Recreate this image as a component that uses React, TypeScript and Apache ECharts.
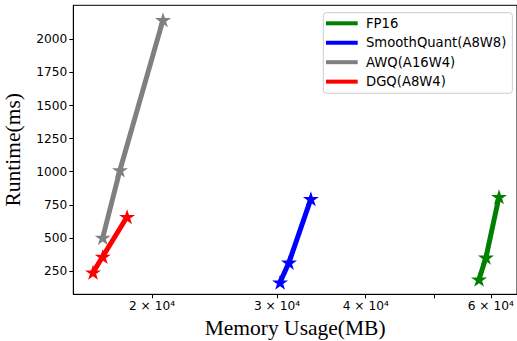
import React, { useEffect, useRef } from "react";
import * as echarts from "echarts";

const seriesNames = ["FP16", "SmoothQuant(A8W8)", "AWQ(A16W4)", "DGQ(A8W4)"];
const colors = ["#008000", "#0000ff", "#808080", "#ff0000"];
const fp16Mem = [57770, 59080, 61630];
const fp16Rt = [188, 353, 811];
const sqMem = [30300, 31190, 33480];
const sqRt = [165, 315, 795];
const awqMem = [17050, 18030, 20730];
const awqRt = [503, 1013, 2147];
const dgqMem = [16520, 17050, 18450];
const dgqRt = [240, 360, 660];
const yTicks = [250, 500, 750, 1000, 1250, 1500, 1750, 2000];
const xTicks = [20000, 30000, 40000, 50000, 60000];
const xLabels = [20000, 30000, 40000, 60000];

const STAR =
  "path://M0,-1 L0.2245,-0.309 L0.951,-0.309 L0.363,0.118 L0.588,0.809 L0,0.382 L-0.588,0.809 L-0.363,0.118 L-0.951,-0.309 L-0.2245,-0.309 Z";

export default function App() {
  const ref = useRef<HTMLDivElement>(null);
  useEffect(() => {
    if (!ref.current) return;
    const chart = echarts.init(ref.current, null, { renderer: "svg" });
    const mems = [fp16Mem, sqMem, awqMem, dgqMem];
    const rts = [fp16Rt, sqRt, awqRt, dgqRt];
    chart.setOption({
      animation: false,
      textStyle: { fontFamily: "DejaVu Sans" },
      grid: {
        left: 73.3,
        right: 0,
        top: 5.3,
        bottom: 46.7,
        show: true,
        borderColor: "#000",
        borderWidth: 1,
        outerBoundsMode: "none",
        containLabel: false,
      },
      legend: {
        orient: "vertical",
        left: 323.3,
        top: 12.7,
        padding: [3.1, 6, 4.1, 2.7],
        itemGap: 4.45,
        itemWidth: 31.7,
        itemHeight: 4,
        icon: "rect",
        borderColor: "#cccccc",
        borderWidth: 1,
        borderRadius: 3,
        backgroundColor: "#ffffff",
        textStyle: { fontSize: 13.2, color: "#000", fontFamily: "DejaVu Sans", lineHeight: 15, padding: [0, 0, 0, 3.3] },
        data: seriesNames,
      },
      xAxis: {
        type: "log",
        logBase: 10,
        min: 15496,
        max: 65330,
        name: "Memory Usage(MB)",
        nameLocation: "middle",
        nameGap: 20,
        nameTextStyle: { fontFamily: "Liberation Serif", fontSize: 21.5, color: "#000" },
        axisLine: { show: true, lineStyle: { color: "#000", width: 1 } },
        axisTick: { show: true, length: 4, lineStyle: { color: "#000" }, customValues: xTicks },
        axisLabel: {
          customValues: xLabels,
          color: "#000",
          fontSize: 12.2,
          margin: 6,
          formatter: (v: number) => `${Math.round(v / 10000)} × 10⁴`,
        },
        splitLine: { show: false },
        minorTick: { show: false },
      },
      yAxis: {
        type: "value",
        min: 74,
        max: 2257,
        name: "Runtime(ms)",
        nameLocation: "middle",
        nameGap: 49,
        nameTextStyle: { fontFamily: "Liberation Serif", fontSize: 21.5, color: "#000" },
        axisLine: { show: true, lineStyle: { color: "#000", width: 1 } },
        axisTick: { show: true, length: 4, lineStyle: { color: "#000" }, customValues: yTicks },
        axisLabel: {
          customValues: yTicks,
          color: "#000",
          fontSize: 12.2,
          margin: 6,
          formatter: (v: number) => String(v),
        },
        splitLine: { show: false },
      },
      series: seriesNames.map((name, i) => ({
        name,
        type: "line",
        data: mems[i].map((m, j) => [m, rts[i][j]]),
        symbol: STAR,
        symbolSize: [16, 15],
        itemStyle: { color: colors[i] },
        lineStyle: { color: colors[i], width: 5 },
        z: 2 + i,
      })),
    });
    return () => chart.dispose();
  }, []);
  return (
    <div
      ref={ref}
      style={{ position: "absolute", left: 0, top: 0, width: 517, height: 341 }}
    />
  );
}
